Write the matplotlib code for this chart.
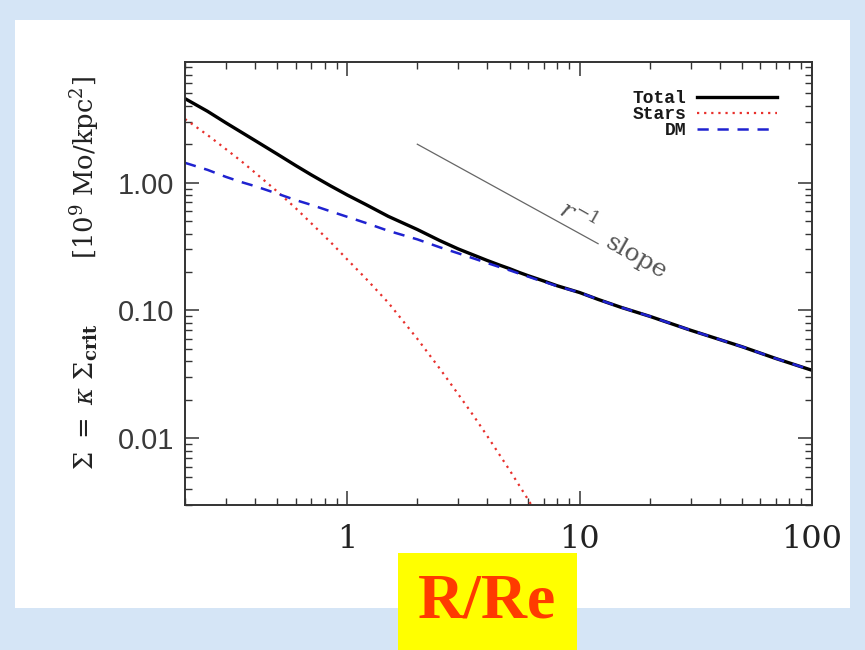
import matplotlib
matplotlib.use('Agg')
import matplotlib.pyplot as plt
from matplotlib.patches import Rectangle
from matplotlib.ticker import LogLocator, FixedLocator, FixedFormatter, NullFormatter

# Radius in units of the effective radius
r_re = [0.2, 0.25, 0.3, 0.35, 0.4, 0.5, 0.6, 0.7, 0.85, 1.0, 1.2, 1.5, 2.0,
        2.5, 3.0, 3.5, 4.0, 4.5, 5.0, 5.5, 6.0, 6.5, 7.0, 8.0, 10.0, 12.0,
        15.0, 20.0, 30.0, 50.0, 70.0, 100.0]
# Surface densities [10^9 Mo/kpc^2]
stars = [3.15, 2.36, 1.83, 1.47, 1.20, 0.85, 0.63, 0.48, 0.34, 0.25, 0.178,
         0.115, 0.060, 0.0350, 0.0221, 0.0149, 0.0104, 0.0075, 0.0056, 0.00425,
         0.0033, 0.0026]
dm = [1.43, 1.26, 1.11, 1.01, 0.94, 0.82, 0.73, 0.67, 0.595, 0.54, 0.484,
      0.42, 0.36, 0.312, 0.28, 0.255, 0.235, 0.219, 0.206, 0.194, 0.184,
      0.175, 0.168, 0.155, 0.138, 0.122, 0.106, 0.090, 0.070, 0.052, 0.042,
      0.034]
total = [4.55, 3.62, 2.94, 2.48, 2.14, 1.67, 1.36, 1.15, 0.94, 0.80, 0.675,
         0.545, 0.43, 0.352, 0.303, 0.271, 0.246, 0.227, 0.212, 0.198, 0.187,
         0.178, 0.170, 0.156, 0.138, 0.122, 0.106, 0.090, 0.070, 0.052, 0.042,
         0.034]

# r^-1 reference line
slope_x = [2.0, 12.0]
slope_y = [2.0, 0.333]

x_ticks = [1, 10, 100]
x_labels = ['1', '10', '100']
y_ticks = [0.01, 0.1, 1.0]
y_labels = ['0.01', '0.10', '1.00']

plt.rcParams['mathtext.fontset'] = 'dejavuserif'

W, H = 865, 650
fig = plt.figure(figsize=(W / 100, H / 100), dpi=100)
fig.patch.set_facecolor('#d5e5f6')

# white slide panel
fig.patches.append(Rectangle((15 / W, 1 - 608 / H), 835 / W, 588 / H,
                             transform=fig.transFigure, facecolor='white',
                             edgecolor='none', zorder=-5))

ax = fig.add_axes([185 / W, 1 - 505 / H, 627 / W, 443 / H])
ax.set_zorder(2)
ax.set_facecolor('white')
ax.set_xscale('log')
ax.set_yscale('log')

ax.plot(r_re, total, color='black', lw=2.4, label='Total')
ax.plot(r_re[:len(stars)], stars, color='#e8302c', lw=1.6, ls=(0, (1, 2.2)),
        label='Stars')
ax.plot(r_re, dm, color='#1f22d0', lw=1.8, ls=(0, (4.5, 3.5)), label='DM')
ax.plot(slope_x, slope_y, color='#666666', lw=0.9)

ax.text(9.8, 0.55, r'$r^{-1}$', rotation=-29.5, fontsize=18, color='#555555',
        ha='center', va='center', family='DejaVu Serif')
ax.text(17.5, 0.262, 'slope', rotation=-29.5, fontsize=18, color='#555555',
        ha='center', va='center', family='DejaVu Serif')

ax.set_xlim(0.2, 100)
ax.set_ylim(0.003, 8.8)

ax.xaxis.set_major_locator(FixedLocator(x_ticks))
ax.xaxis.set_major_formatter(FixedFormatter(x_labels))
ax.yaxis.set_major_locator(FixedLocator(y_ticks))
ax.yaxis.set_major_formatter(FixedFormatter(y_labels))
ax.xaxis.set_minor_locator(LogLocator(base=10, subs=range(2, 10), numticks=20))
ax.yaxis.set_minor_locator(LogLocator(base=10, subs=range(2, 10), numticks=20))
ax.xaxis.set_minor_formatter(NullFormatter())
ax.yaxis.set_minor_formatter(NullFormatter())

ax.tick_params(which='both', direction='in', top=True, right=True, color='#333333')
ax.tick_params(which='major', length=10, width=1.1)
ax.tick_params(which='minor', length=5, width=1.0)
ax.tick_params(axis='x', which='major', pad=14, labelsize=23, labelcolor='#222222')
ax.tick_params(axis='y', which='major', pad=8, labelsize=21, labelcolor='#3a3a3a')
for lab in ax.get_xticklabels():
    lab.set_family('DejaVu Serif')
for lab in ax.get_yticklabels():
    lab.set_family('Liberation Sans')
for sp in ax.spines.values():
    sp.set_linewidth(1.4)
    sp.set_color('#333333')

leg = ax.legend(loc='upper right', bbox_to_anchor=(0.955, 0.952), frameon=False,
                markerfirst=False, handlelength=4.4, handletextpad=0.6,
                labelspacing=-0.06, borderaxespad=0,
                prop={'family': 'Liberation Mono', 'size': 13, 'weight': 'bold'})
for t in leg.get_texts():
    t.set_color('#1a1a1a')

fig.text(85 / W, 1 - 273 / H,
         r'$\Sigma\ =\ \kappa\ \Sigma_{\mathbf{crit}}$        [10$^{9}$ Mo/kpc$^{2}$]',
         rotation=90, ha='center', va='center', fontsize=18.5,
         family='DejaVu Serif', color='#222222')

# yellow label box for the x axis
fig.patches.append(Rectangle((398 / W, 0), 179 / W, 97 / H,
                             transform=fig.transFigure, facecolor='#ffff00',
                             edgecolor='none', zorder=5))
fig.text(487 / W, 1 - 603 / H, 'R/Re', ha='center', va='center', fontsize=46,
         fontweight='bold', family='Liberation Serif', color='#ff3a00', zorder=6)

plt.savefig('out.png', dpi=100, facecolor=fig.get_facecolor())
